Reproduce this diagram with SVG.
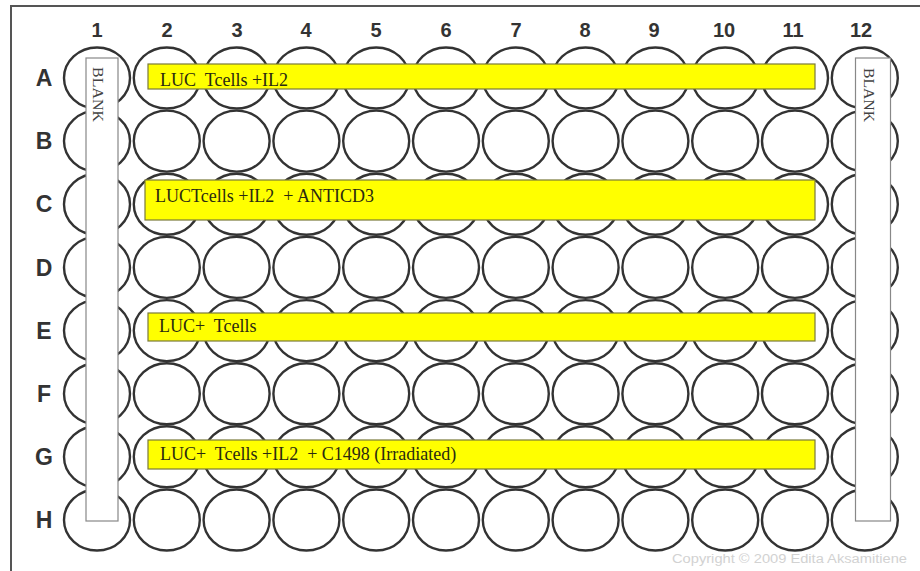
<svg xmlns="http://www.w3.org/2000/svg" width="920" height="571" viewBox="0 0 920 571">
<style>
.well{fill:none;stroke:#333;stroke-width:2.4}
.col{font-family:"Liberation Sans",Arial,sans-serif;font-size:20px;font-weight:bold;fill:#333;text-anchor:middle}
.row{font-family:"Liberation Sans",Arial,sans-serif;font-size:23px;font-weight:bold;fill:#333;text-anchor:middle}
.strip{fill:#fff;stroke:#888;stroke-width:1.2}
.blank{font-family:"Liberation Serif","Times New Roman",serif;font-size:14px;fill:#444}
.bar{fill:#ffff00;stroke:#7a7a3a;stroke-width:1.2}
.lbl{font-family:"Liberation Serif","Times New Roman",serif;font-size:18px;fill:#2a2a10;white-space:pre}
.copy{font-family:"Liberation Sans",Arial,sans-serif;font-size:12px;fill:#d2d2d2}
</style>
<defs>
<ellipse id="w" class="well" cx="0" cy="0" rx="33" ry="30.5"/>
</defs>
<rect width="920" height="571" fill="#fff"/>
<path d="M11,571 V6 H920" fill="none" stroke="#555" stroke-width="2"/>
<g id="column-labels">
<text class="col" x="97" y="37">1</text>
<text class="col" x="167" y="37">2</text>
<text class="col" x="237" y="37">3</text>
<text class="col" x="306" y="37">4</text>
<text class="col" x="376" y="37">5</text>
<text class="col" x="446" y="37">6</text>
<text class="col" x="516" y="37">7</text>
<text class="col" x="585" y="37">8</text>
<text class="col" x="654" y="37">9</text>
<text class="col" x="724" y="37">10</text>
<text class="col" x="793" y="37">11</text>
<text class="col" x="861" y="37">12</text>
</g>
<g id="row-labels">
<text class="row" x="44" y="86">A</text>
<text class="row" x="44" y="149">B</text>
<text class="row" x="44" y="212">C</text>
<text class="row" x="44" y="276">D</text>
<text class="row" x="44" y="339">E</text>
<text class="row" x="44" y="402">F</text>
<text class="row" x="44" y="465">G</text>
<text class="row" x="44" y="528">H</text>
</g>
<g id="wells">
<g id="row-A" transform="translate(0,78)"><use href="#w" x="97"/><use href="#w" x="166.8"/><use href="#w" x="236.6"/><use href="#w" x="306.4"/><use href="#w" x="376.2"/><use href="#w" x="446"/><use href="#w" x="515.8"/><use href="#w" x="585.6"/><use href="#w" x="655.4"/><use href="#w" x="725.2"/><use href="#w" x="795"/><use href="#w" x="864.8"/></g>
<g id="row-B" transform="translate(0,141.1)"><use href="#w" x="97"/><use href="#w" x="166.8"/><use href="#w" x="236.6"/><use href="#w" x="306.4"/><use href="#w" x="376.2"/><use href="#w" x="446"/><use href="#w" x="515.8"/><use href="#w" x="585.6"/><use href="#w" x="655.4"/><use href="#w" x="725.2"/><use href="#w" x="795"/><use href="#w" x="864.8"/></g>
<g id="row-C" transform="translate(0,204.3)"><use href="#w" x="97"/><use href="#w" x="166.8"/><use href="#w" x="236.6"/><use href="#w" x="306.4"/><use href="#w" x="376.2"/><use href="#w" x="446"/><use href="#w" x="515.8"/><use href="#w" x="585.6"/><use href="#w" x="655.4"/><use href="#w" x="725.2"/><use href="#w" x="795"/><use href="#w" x="864.8"/></g>
<g id="row-D" transform="translate(0,267.4)"><use href="#w" x="97"/><use href="#w" x="166.8"/><use href="#w" x="236.6"/><use href="#w" x="306.4"/><use href="#w" x="376.2"/><use href="#w" x="446"/><use href="#w" x="515.8"/><use href="#w" x="585.6"/><use href="#w" x="655.4"/><use href="#w" x="725.2"/><use href="#w" x="795"/><use href="#w" x="864.8"/></g>
<g id="row-E" transform="translate(0,330.6)"><use href="#w" x="97"/><use href="#w" x="166.8"/><use href="#w" x="236.6"/><use href="#w" x="306.4"/><use href="#w" x="376.2"/><use href="#w" x="446"/><use href="#w" x="515.8"/><use href="#w" x="585.6"/><use href="#w" x="655.4"/><use href="#w" x="725.2"/><use href="#w" x="795"/><use href="#w" x="864.8"/></g>
<g id="row-F" transform="translate(0,393.7)"><use href="#w" x="97"/><use href="#w" x="166.8"/><use href="#w" x="236.6"/><use href="#w" x="306.4"/><use href="#w" x="376.2"/><use href="#w" x="446"/><use href="#w" x="515.8"/><use href="#w" x="585.6"/><use href="#w" x="655.4"/><use href="#w" x="725.2"/><use href="#w" x="795"/><use href="#w" x="864.8"/></g>
<g id="row-G" transform="translate(0,456.8)"><use href="#w" x="97"/><use href="#w" x="166.8"/><use href="#w" x="236.6"/><use href="#w" x="306.4"/><use href="#w" x="376.2"/><use href="#w" x="446"/><use href="#w" x="515.8"/><use href="#w" x="585.6"/><use href="#w" x="655.4"/><use href="#w" x="725.2"/><use href="#w" x="795"/><use href="#w" x="864.8"/></g>
<g id="row-H" transform="translate(0,520)"><use href="#w" x="97"/><use href="#w" x="166.8"/><use href="#w" x="236.6"/><use href="#w" x="306.4"/><use href="#w" x="376.2"/><use href="#w" x="446"/><use href="#w" x="515.8"/><use href="#w" x="585.6"/><use href="#w" x="655.4"/><use href="#w" x="725.2"/><use href="#w" x="795"/><use href="#w" x="864.8"/></g>
</g>
<g id="blank-left">
<rect class="strip" x="86" y="58" width="32" height="463"/>
<text class="blank" transform="translate(93,67) rotate(90)" textLength="55" lengthAdjust="spacingAndGlyphs">BLANK</text>
</g>
<g id="blank-right">
<rect class="strip" x="855.5" y="58" width="35" height="463"/>
<text class="blank" transform="translate(864,68) rotate(90)" textLength="54" lengthAdjust="spacingAndGlyphs">BLANK</text>
</g>
<g id="bar-A">
<rect class="bar" x="148" y="64" width="667" height="25"/>
<text class="lbl" x="160" y="86" xml:space="preserve">LUC  Tcells +IL2</text>
</g>
<g id="bar-C">
<rect class="bar" x="145" y="180" width="670" height="40"/>
<text class="lbl" x="155" y="202" xml:space="preserve">LUCTcells +IL2  + ANTICD3</text>
</g>
<g id="bar-E">
<rect class="bar" x="148" y="313" width="667" height="28"/>
<text class="lbl" x="159" y="332" xml:space="preserve">LUC+  Tcells</text>
</g>
<g id="bar-G">
<rect class="bar" x="148" y="440" width="667" height="29"/>
<text class="lbl" x="160" y="460" xml:space="preserve">LUC+  Tcells +IL2  + C1498 (Irradiated)</text>
</g>
<text id="copyright" class="copy" x="672" y="563" textLength="235" lengthAdjust="spacingAndGlyphs">Copyright © 2009 Edita Aksamitiene</text>
</svg>
